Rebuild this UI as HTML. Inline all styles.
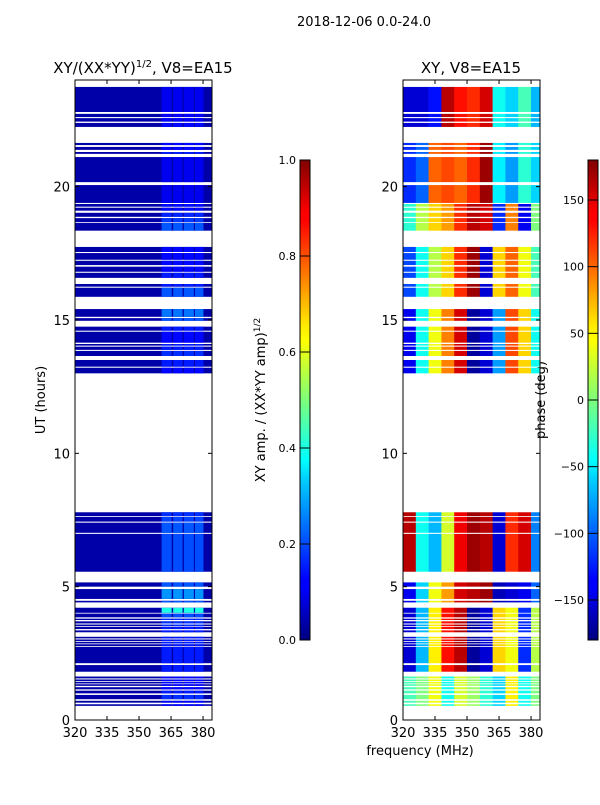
<!DOCTYPE html>
<html><head><meta charset="utf-8"><style>
body{margin:0;background:#fff;width:600px;height:800px;overflow:hidden;font-family:"Liberation Sans","DejaVu Sans",sans-serif}
svg text{font-family:"DejaVu Sans","Liberation Sans",sans-serif;fill:#000}
</style></head><body>
<svg id="chart" width="600" height="800" xmlns="http://www.w3.org/2000/svg">
<defs>
<linearGradient id="jet" x1="0" y1="1" x2="0" y2="0">
<stop offset="0" stop-color="#00007f"/><stop offset="0.11" stop-color="#0000ff"/><stop offset="0.125" stop-color="#0000ff"/><stop offset="0.34" stop-color="#00d4ff"/><stop offset="0.375" stop-color="#00ffff"/><stop offset="0.5" stop-color="#7dff7a"/><stop offset="0.625" stop-color="#ffff00"/><stop offset="0.66" stop-color="#ffe600"/><stop offset="0.875" stop-color="#ff0000"/><stop offset="0.89" stop-color="#ff0000"/><stop offset="1" stop-color="#7f0000"/>
</linearGradient>
</defs>
<text x="364" y="26" font-size="13" text-anchor="middle">2018-12-06 0.0-24.0</text>
<text x="143" y="73" font-size="15" text-anchor="middle">XY/(XX*YY)<tspan font-size="10" dy="-6">1/2</tspan><tspan dy="6">, V8=EA15</tspan></text>
<text x="471" y="73" font-size="15" text-anchor="middle">XY, V8=EA15</text>
<text transform="translate(45,400) rotate(-90)" font-size="13" text-anchor="middle">UT (hours)</text>
<text x="420" y="755" font-size="13" text-anchor="middle">frequency (MHz)</text>
<text transform="translate(265,400) rotate(-90)" font-size="13" text-anchor="middle">XY amp. / (XX*YY amp)<tspan font-size="9" dy="-5">1/2</tspan></text>
<text transform="translate(545,400) rotate(-90)" font-size="13" text-anchor="middle">phase (deg)</text>
<g id="left"></g>
<g id="right"></g>
<g id="axes"></g>
</svg>
<script>
// segments with data (hours)
const segStart=[22.8,22.61,22.44,22.24,21.56,21.38,21.23,20.17,19.39,19.25,19.1,18.87,18.67,18.35,17.55,17.26,17.06,16.81,16.58,16.25,15.87,15.12,14.97,14.6,14.15,14.04,13.88,13.65,13.25,13.0,
7.65,7.44,7.02,5.56,5.0,4.54,4.41,4.02,3.85,3.75,3.62,3.52,3.41,3.29,3.06,2.96,2.87,2.77,2.13,1.81,1.56,1.46,1.37,1.28,1.15,1.0,0.78,0.65,0.53];
const segEnd=[23.74,22.73,22.57,22.39,21.64,21.49,21.3,21.11,20.06,19.35,19.21,19.02,18.82,18.64,17.74,17.51,17.22,17.0,16.77,16.35,16.21,15.41,15.07,14.75,14.56,14.1,14.0,13.84,13.5,13.21,
7.79,7.62,7.4,6.98,5.16,4.91,4.47,4.21,3.99,3.8,3.7,3.58,3.49,3.36,3.12,3.02,2.93,2.84,2.74,2.06,1.63,1.52,1.43,1.34,1.23,1.1,0.94,0.72,0.59];
const ampLow=0.04;
const ampHi=[0.11,0.12,0.12,0.13,0.13,0.13,0.15,0.11,0.11,0.13,0.13,0.16,0.18,0.21,0.13,0.13,0.13,0.13,0.15,0.15,0.21,0.24,0.21,0.15,0.13,0.15,0.15,0.17,0.15,0.13,
0.17,0.19,0.21,0.2,0.21,0.27,0.21,0.4,0.2,0.17,0.17,0.17,0.15,0.15,0.15,0.15,0.15,0.15,0.15,0.15,0.13,0.13,0.13,0.13,0.13,0.15,0.17,0.13,0.13];
const subStart=[360.6,366,371,376.2];
const subEnd=[365.3,370.4,375.7,380.2];
// phase blocks
const freqEdges=[320,326,332,338,344,350,356,362,368,374,380,384];
const blockStart=[22.2,19.38,18.3,15.8,12.9,5.5,4.35,1.75,0.4];
const blockEnd=[23.8,21.7,19.38,17.8,15.5,7.85,5.2,4.35,1.75];
const phase=[
[-150,-150,-130,160,130,120,150,-40,-60,-20,-70],
[-120,-100,100,110,100,120,170,-50,-80,-30,-60],
[-30,20,60,80,120,160,150,-120,90,-140,0],
[-110,-40,20,60,120,170,-150,60,100,40,-20],
[-140,-40,40,90,150,-170,-150,-80,110,60,-40],
[160,-40,-70,30,140,170,160,-150,120,150,-90],
[-140,-60,40,80,150,160,170,-160,-150,-140,-100],
[-150,-70,50,130,160,-170,-150,60,40,-120,20],
[-20,0,40,-40,30,10,-30,-60,50,-40,0]];
const yTicks=[0,5,10,15,20];
const xTicks=[320,335,350,365,380];
const ampTicks=[0.0,0.2,0.4,0.6,0.8,1.0];
const phTicks=[-150,-100,-50,0,50,100,150];

const NS="http://www.w3.org/2000/svg";
const Y0=720,Y1=80,XMIN=320,XMAX=384.2;
const y=h=>Y0-(h/24)*(Y0-Y1);
const xL=f=>75+(f-XMIN)/(XMAX-XMIN)*137;
const xR=f=>403+(f-XMIN)/(XMAX-XMIN)*137;
function jet(v){v=Math.max(0,Math.min(1,v));
 const c=t=>Math.round(255*Math.max(0,Math.min(1,1.5-Math.abs(4*v-t))));
 return `rgb(${c(3)},${c(2)},${c(1)})`;}
function el(tag,attrs,parent){const e=document.createElementNS(NS,tag);for(const k in attrs)e.setAttribute(k,attrs[k]);parent.appendChild(e);return e;}
const L=document.getElementById('left'),R=document.getElementById('right'),A=document.getElementById('axes');
for(let i=0;i<segStart.length;i++){
 const y1=y(segEnd[i]),hh=y(segStart[i])-y1;
 const r=el('rect',{x:xL(XMIN),y:y1,width:xL(XMAX)-xL(XMIN),height:hh,fill:jet(ampLow)},L);
 
 
 for(let s=0;s<subStart.length;s++){
  const c=el('rect',{x:xL(subStart[s]),y:y1,width:xL(subEnd[s])-xL(subStart[s]),height:hh,fill:jet(ampHi[i])},L);
  
  
 }
 const mid=(segStart[i]+segEnd[i])/2;
 let b=blockStart.findIndex((s,k)=>mid>=s&&mid<blockEnd[k]); if(b<0)b=0;
 for(let f=0;f<freqEdges.length-1;f++){
  const c=el('rect',{x:xR(freqEdges[f]),y:y1,width:xR(freqEdges[f+1])-xR(freqEdges[f])+0.3,height:hh,fill:jet((phase[b][f]+180)/360)},R);
  
  
 }
}
function axes(x0,lab){
 el('rect',{x:x0,y:Y1,width:137,height:Y0-Y1,fill:'none',stroke:'#000','stroke-width':1},A);
 yTicks.forEach(t=>{const yy=y(t);
  el('line',{x1:x0,x2:x0+4,y1:yy,y2:yy,stroke:'#000'},A);
  el('line',{x1:x0+137,x2:x0+133,y1:yy,y2:yy,stroke:'#000'},A);
  const tx=el('text',{x:x0-5,y:yy+5,'font-size':13,'text-anchor':'end'},A);tx.textContent=t;
  
  });
 xTicks.forEach(t=>{const xx=x0+(t-XMIN)/(XMAX-XMIN)*137;
  el('line',{x1:xx,x2:xx,y1:Y0,y2:Y0-4,stroke:'#000'},A);
  el('line',{x1:xx,x2:xx,y1:Y1,y2:Y1+4,stroke:'#000'},A);
  const tx=el('text',{x:xx,y:737,'font-size':13,'text-anchor':'middle'},A);tx.textContent=t;
  
  });
}
axes(75);axes(403);
function cbar(x0,ticks,vmin,vmax,name){
 const r=el('rect',{x:x0,y:160,width:10,height:480,fill:'url(#jet)',stroke:'#000','stroke-width':1},A);
 
 
 ticks.forEach(t=>{const yy=640-(t-vmin)/(vmax-vmin)*480;
  el('line',{x1:x0,x2:x0+10,y1:yy,y2:yy,stroke:'#000'},A);
  const tx=el('text',{x:x0-4,y:yy+4,'font-size':11,'text-anchor':'end'},A);
  tx.textContent=(vmin===0?t.toFixed(1):String(t).replace('-','\u2212'));
  
  });
}
cbar(300,ampTicks,0,1,'amp-colorbar');
cbar(588,phTicks,-180,180,'phase-colorbar');
</script>
</body></html>
